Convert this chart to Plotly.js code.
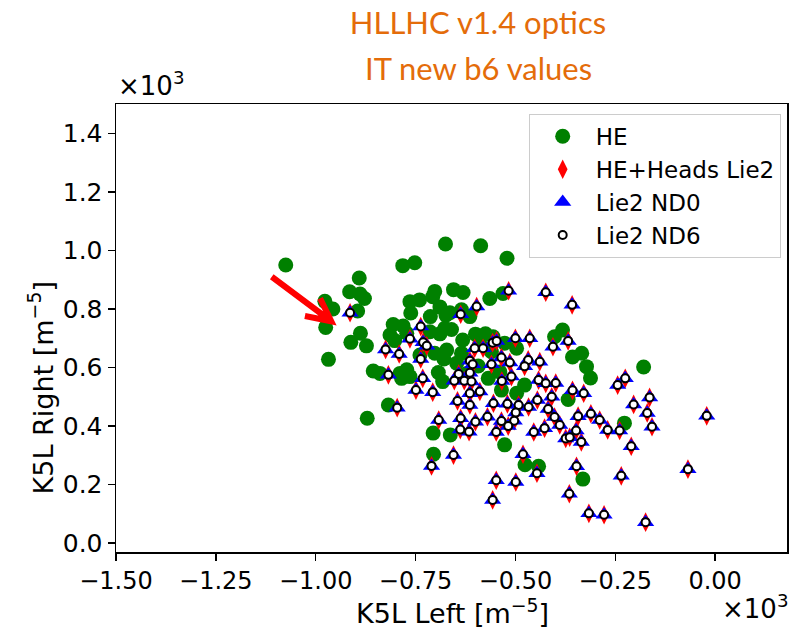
<!DOCTYPE html>
<html>
<head>
<meta charset="utf-8">
<script src="https://cdn.plot.ly/plotly-3.0.1.min.js"></script>
<style>html,body{margin:0;padding:0;background:#fff;}#chart{width:802px;height:628px;}</style>
</head>
<body>
<div id="chart"></div>
<script>
// values in units of 10^3 m^-5
const heX = [-1.075,-0.675,-0.587,-0.521,-0.782,-0.752,-0.891,-0.915,-0.889,-0.878,-0.977,-0.957,-0.895,-0.975,-0.888,-0.912,-0.873,-0.968,-0.856,
  -0.702,-0.707,-0.764,-0.740,-0.655,-0.631,-0.564,-0.531,-0.689,-0.762,-0.713,-0.674,-0.664,-0.635,-0.614,-0.806,-0.781,-0.814,-0.802,-0.772,
  -0.714,-0.689,-0.677,-0.660,-0.600,-0.575,-0.556,-0.589,-0.560,-0.672,-0.702,-0.679,-0.635,-0.647,-0.772,-0.789,-0.839,-0.693,-0.682,-0.785,
  -0.764,-0.593,-0.568,-0.622,-0.535,-0.497,-0.527,-0.497,-0.382,-0.402,-0.357,-0.334,-0.322,-0.312,-0.179,-0.368,-0.227,-0.527,-0.476,-0.442,
  -0.331,-0.871,-0.818,-0.706,-0.663,-0.705,-0.739,-0.632,-0.539,-0.477];
const heY = [0.950,1.022,1.016,0.973,0.948,0.958,0.906,0.859,0.851,0.836,0.826,0.800,0.793,0.737,0.717,0.686,0.674,0.628,0.588,
  0.860,0.842,0.825,0.831,0.866,0.856,0.836,0.853,0.807,0.786,0.774,0.779,0.787,0.797,0.774,0.747,0.742,0.711,0.692,0.717,
  0.722,0.715,0.734,0.730,0.714,0.715,0.705,0.683,0.654,0.660,0.649,0.629,0.649,0.615,0.592,0.580,0.580,0.583,0.552,0.563,
  0.569,0.605,0.563,0.580,0.523,0.512,0.683,0.666,0.728,0.705,0.636,0.649,0.603,0.564,0.602,0.491,0.410,0.336,0.268,0.263,
  0.219,0.427,0.472,0.376,0.370,0.304,0.643,0.694,0.585,0.540];

const lie2X = [-0.914,-0.597,-0.637,-0.737,-0.764,-0.731,-0.722,-0.825,-0.791,-0.737,-0.602,-0.581,-0.557,-0.614,-0.607,-0.560,-0.642,-0.614,
  -0.653,-0.628,-0.610,-0.732,-0.818,-0.517,-0.424,-0.358,-0.547,-0.500,-0.464,-0.406,-0.368,-0.535,-0.514,-0.468,-0.439,-0.477,-0.510,
  -0.534,-0.442,-0.424,-0.399,-0.225,-0.244,-0.357,-0.329,-0.589,-0.614,-0.614,-0.749,-0.707,-0.796,-0.645,-0.555,-0.692,-0.637,-0.600,
  -0.570,-0.638,-0.616,-0.548,-0.655,-0.710,-0.548,-0.557,-0.520,-0.492,-0.499,-0.467,-0.445,-0.418,-0.409,-0.402,-0.389,-0.503,-0.518,
  -0.535,-0.454,-0.427,-0.374,-0.364,-0.348,-0.335,-0.343,-0.311,-0.289,-0.269,-0.239,-0.210,-0.164,-0.204,-0.170,-0.021,-0.158,-0.481,
  -0.347,-0.446,-0.499,-0.235,-0.068,-0.365,-0.316,-0.278,-0.174];
const lie2Y = [0.787,0.808,0.782,0.740,0.698,0.686,0.674,0.662,0.646,0.629,0.666,0.666,0.685,0.623,0.611,0.611,0.578,0.582,
  0.555,0.555,0.552,0.563,0.575,0.862,0.857,0.814,0.691,0.700,0.700,0.671,0.691,0.634,0.617,0.626,0.620,0.604,0.569,
  0.554,0.557,0.546,0.547,0.563,0.540,0.522,0.512,0.518,0.512,0.472,0.523,0.516,0.463,0.486,0.478,0.421,0.427,0.415,
  0.432,0.388,0.381,0.380,0.301,0.264,0.215,0.148,0.476,0.472,0.446,0.465,0.489,0.458,0.500,0.431,0.404,0.418,0.400,
  0.417,0.380,0.393,0.358,0.362,0.385,0.346,0.434,0.442,0.421,0.387,0.385,0.331,0.498,0.474,0.445,0.435,0.398,0.304,
  0.263,0.239,0.209,0.230,0.253,0.169,0.102,0.097,0.072];

// the three Lie2 studies give the same values
const headsX = lie2X, headsY = lie2Y;
const nd0X = lie2X, nd0Y = lie2Y;
const nd6X = lie2X, nd6Y = lie2Y;

const xTicks = [-1.5,-1.25,-1.0,-0.75,-0.5,-0.25,0.0];
const yTicks = [0,0.2,0.4,0.6,0.8,1.0,1.2,1.4];

// arrow (annotation) points: tail, tip, head arms
const arrowPts = {tail:[-1.110,0.910], tip:[-0.961,0.758], arm1:[-0.989,0.836], arm2:[-1.027,0.776]};

const traces = [
  {x: heX, y: heY, name: 'HE', type: 'scatter', mode: 'markers',
   marker: {symbol: 'circle', size: 15, color: '#008000', line: {width: 0}}},
  {x: headsX, y: headsY, name: 'HE+Heads Lie2', type: 'scatter', mode: 'markers',
   marker: {symbol: 'diamond-tall', size: 14, color: '#ff0000', line: {width: 0}}},
  {x: nd0X, y: nd0Y, name: 'Lie2 ND0', type: 'scatter', mode: 'markers',
   marker: {symbol: 'triangle-up', size: 15, color: '#0000ff', line: {width: 0}}},
  {x: nd6X, y: nd6Y, name: 'Lie2 ND6', type: 'scatter', mode: 'markers',
   marker: {symbol: 'circle', size: 8, color: '#ffffff', line: {width: 2, color: '#000000'}}}
];

const fontFam = 'DejaVu Sans, sans-serif';
const a = arrowPts;
const layout = {
  width: 802, height: 628,
  margin: {l: 115.6, r: 15, t: 104, b: 76},
  paper_bgcolor: '#ffffff', plot_bgcolor: '#ffffff',
  showlegend: true,
  title: {text: 'HLLHC v1.4 optics', x: 478/802, xanchor: 'center', xref: 'container',
          y: 1 - 23/628, yanchor: 'middle', yref: 'container',
          font: {family: 'Lato, sans-serif', size: 31, color: '#E46C0A'}},
  xaxis: {range: [-1.5, 0.18], tickvals: xTicks, tickformat: '.2f',
          showgrid: false, zeroline: false, showline: true, linecolor: '#000', linewidth: 1.5, mirror: true,
          ticks: 'outside', ticklen: 7, tickwidth: 1.5, tickcolor: '#000',
          tickfont: {family: fontFam, size: 24, color: '#000'}},
  yaxis: {range: [-0.03, 1.5], tickvals: yTicks, tickformat: '.1f',
          showgrid: false, zeroline: false, showline: true, linecolor: '#000', linewidth: 1.5, mirror: true,
          ticks: 'outside', ticklen: 7, tickwidth: 1.5, tickcolor: '#000',
          tickfont: {family: fontFam, size: 25, color: '#000'}},
  legend: {x: 0.9906, xanchor: 'right', y: 0.978, yanchor: 'top',
           bgcolor: 'rgba(255,255,255,0.8)', bordercolor: '#cccccc', borderwidth: 1,
           font: {family: fontFam, size: 23, color: '#000'}, itemwidth: 56},
  annotations: [
    {text: 'IT new b6 values', xref: 'paper', yref: 'paper', x: (478-115.6)/671.4, y: (552-68)/448,
     xanchor: 'center', yanchor: 'middle', showarrow: false,
     font: {family: 'Lato, sans-serif', size: 31, color: '#E46C0A'}},
    {text: 'K5L Left [m<sup>−5</sup>]', xref: 'paper', yref: 'paper', x: (452-115.6)/671.4, y: (552-611)/448,
     xanchor: 'center', yanchor: 'middle', showarrow: false,
     font: {family: fontFam, size: 27, color: '#000'}},
    {text: 'K5L Right [m<sup>−5</sup>]', xref: 'paper', yref: 'paper', x: (40-115.6)/671.4, y: (552-388)/448,
     xanchor: 'center', yanchor: 'middle', textangle: -90, showarrow: false,
     font: {family: fontFam, size: 27, color: '#000'}},
    {text: '×10<sup>3</sup>', xref: 'paper', yref: 'paper', x: 0, y: 1, xanchor: 'left', yanchor: 'bottom',
     yshift: 1, showarrow: false, font: {family: fontFam, size: 26, color: '#000'}},
    {text: '×10<sup>3</sup>', xref: 'paper', yref: 'paper', x: 1.005, y: 0, xanchor: 'right', yanchor: 'top',
     yshift: -36, showarrow: false, font: {family: fontFam, size: 26, color: '#000'}}
  ],
  shapes: [
    {type: 'path', xref: 'x', yref: 'y',
     path: 'M' + a.tail[0] + ',' + a.tail[1] + ' L' + a.tip[0] + ',' + a.tip[1] +
           ' M' + a.arm1[0] + ',' + a.arm1[1] + ' L' + a.tip[0] + ',' + a.tip[1] + ' L' + a.arm2[0] + ',' + a.arm2[1],
     line: {color: '#ff0000', width: 6}}
  ]
};

Plotly.newPlot('chart', traces, layout, {displayModeBar: false, staticPlot: true});
</script>
</body>
</html>
